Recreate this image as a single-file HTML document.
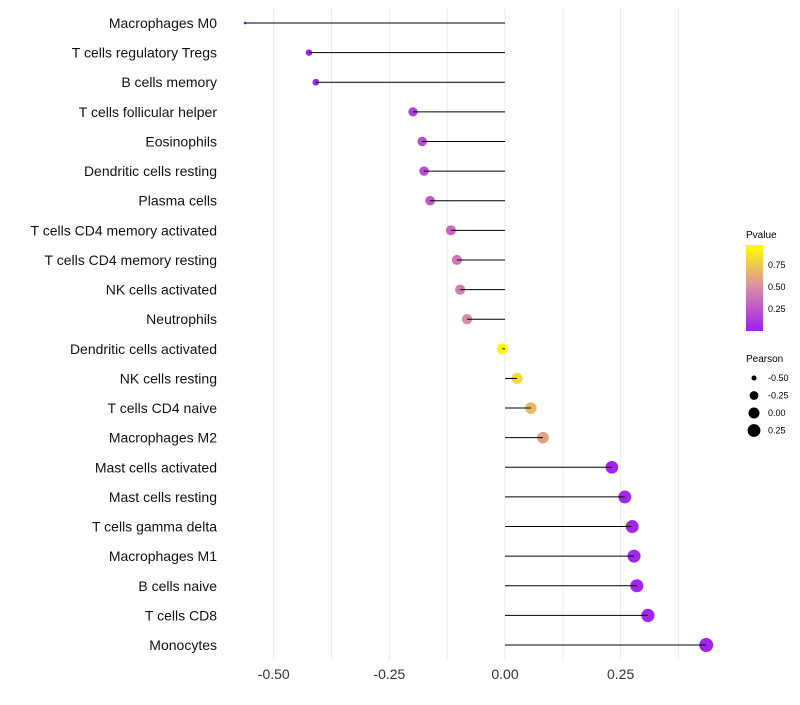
<!DOCTYPE html>
<html><head><meta charset="utf-8"><style>
body{margin:0;background:#fff;font-family:"Liberation Sans",sans-serif}
</style></head><body>
<svg id="chart" width="800" height="700" xmlns="http://www.w3.org/2000/svg">
<defs><linearGradient id="pg" x1="0" y1="1" x2="0" y2="0">
<stop offset="0" stop-color="#A020F0"/><stop offset="0.5" stop-color="#D98AA8"/><stop offset="1" stop-color="#FFFF00"/>
</linearGradient></defs>
<g id="grid"></g><g id="marks"></g><g id="labels"></g>
<g font-size="9">
<text x="746" y="238" font-size="10">Pvalue</text>
<rect x="746" y="245" width="17" height="86" fill="url(#pg)"/>
<text x="768" y="268">0.75</text><text x="768" y="290">0.50</text><text x="768" y="312">0.25</text>
</g>
<g id="sizeleg" font-size="9">
<text x="746" y="362" font-size="10">Pearson</text>
</g>
</svg>
<script>
const categories=["Macrophages M0","T cells regulatory  Tregs","B cells memory","T cells follicular helper","Eosinophils","Dendritic cells resting","Plasma cells","T cells CD4 memory activated","T cells CD4 memory resting","NK cells activated","Neutrophils","Dendritic cells activated","NK cells resting","T cells CD4 naive","Macrophages M2","Mast cells activated","Mast cells resting","T cells gamma delta","Macrophages M1","B cells naive","T cells CD8","Monocytes"];
const pearson=[-0.562,-0.424,-0.409,-0.199,-0.179,-0.175,-0.162,-0.117,-0.104,-0.097,-0.082,-0.006,0.026,0.056,0.082,0.231,0.259,0.275,0.279,0.285,0.309,0.435];
const pvalue=[0.01,0.02,0.02,0.15,0.2,0.22,0.27,0.33,0.42,0.45,0.5,0.97,0.85,0.7,0.6,0.02,0.03,0.03,0.03,0.02,0.02,0.01];
const xTicks=[-0.5,-0.25,0,0.25];
const xTickLabels=["-0.50","-0.25","0.00","0.25"];
const sizeLegend=[-0.5,-0.25,0,0.25];
const sizeLegendLabels=["-0.50","-0.25","0.00","0.25"];
const NS="http://www.w3.org/2000/svg";
const x=v=>505+v*462.5, y=i=>23+i*29.62, r=v=>1+6*Math.sqrt(Math.max(0,v+0.565));
function lerp(a,b,t){return a.map((c,i)=>Math.round(c+(b[i]-c)*t));}
function col(p){const A=[160,32,240],M=[217,138,168],B=[255,255,0];const c=p<0.5?lerp(A,M,p/0.5):lerp(M,B,(p-0.5)/0.5);return `rgb(${c})`;}
function mk(t,a,parent){const e=document.createElementNS(NS,t);for(const k in a)e.setAttribute(k,a[k]);parent.appendChild(e);return e;}
const grid=document.getElementById('grid'),marks=document.getElementById('marks'),labels=document.getElementById('labels');
for(let v=-0.5;v<=0.376;v+=0.125){const g=mk('line',{x1:x(v),x2:x(v),y1:8,y2:660,stroke:'#ebebeb','stroke-width':1},grid);

}
xTicks.forEach((v,i)=>{const t=mk('text',{x:x(v),y:679,'text-anchor':'middle','font-size':14,fill:'#333'},labels);t.textContent=xTickLabels[i];

});
categories.forEach((c,i)=>{
const t=mk('text',{x:217,y:y(i)+5,'text-anchor':'end','font-size':14,fill:'#111'},labels);t.textContent=c;


const d=mk('circle',{cx:x(pearson[i]),cy:y(i),r:r(pearson[i]),fill:col(pvalue[i])},marks);


const l=mk('line',{x1:x(0),x2:x(pearson[i]),y1:y(i),y2:y(i),stroke:'#000','stroke-width':1},marks);


});
const sl=document.getElementById('sizeleg');
sizeLegend.forEach((v,i)=>{const cy=378+i*17.5;
const d=mk('circle',{cx:754,cy:cy,r:r(v),fill:'#000'},sl);


const t=mk('text',{x:768,y:cy+3},sl);t.textContent=sizeLegendLabels[i];

});
</script>
</body></html>
